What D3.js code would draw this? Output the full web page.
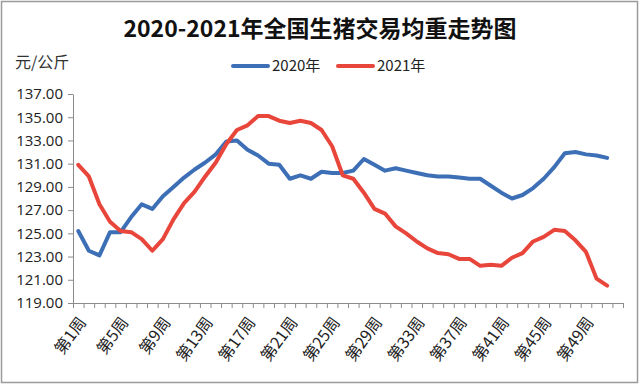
<!DOCTYPE html>
<html>
<head>
<meta charset="utf-8">
<script src="https://cdn.jsdelivr.net/npm/d3@7"></script>
<style>
  body { margin: 0; background: #fff; }
  svg { display: block; font-family: "Noto Sans CJK SC", "Noto Sans", sans-serif; }
  .axis path, .axis line { stroke: #8c8c8c; }
  .axis text { fill: #222; }
</style>
</head>
<body>
<div id="chart"></div>
<script>
// Week categories (axis has 52 slots, data runs to week 51)
const weeks = d3.range(1, 53).map(i => `第${i}周`);
const labelWeeks = d3.range(1, 53, 4).map(i => `第${i}周`);

const seriesNames = ['2020年', '2021年'];

const values2020 = [
  125.2, 123.5, 123.1, 125.1, 125.1, 126.4, 127.5, 127.1, 128.2, 129.0,
  129.8, 130.5, 131.1, 131.8, 132.9, 133.0, 132.2, 131.7, 131.0, 130.9,
  129.7, 130.0, 129.7, 130.3, 130.2, 130.2, 130.4, 131.4, 130.9, 130.4,
  130.6, 130.4, 130.2, 130.0, 129.9, 129.9, 129.8, 129.7, 129.7, 129.1,
  128.5, 128.0, 128.3, 128.9, 129.7, 130.7, 131.9, 132.0, 131.8, 131.7,
  131.5
];

const values2021 = [
  130.9, 129.9, 127.5, 126.0, 125.2, 125.1, 124.5, 123.5, 124.5, 126.2,
  127.6, 128.6, 129.9, 131.1, 132.7, 133.9, 134.3, 135.1, 135.1, 134.7,
  134.5, 134.7, 134.5, 133.9, 132.5, 130.0, 129.7, 128.5, 127.1, 126.7,
  125.6, 125.0, 124.3, 123.7, 123.3, 123.2, 122.8, 122.8, 122.2, 122.3,
  122.2, 122.9, 123.3, 124.3, 124.7, 125.3, 125.2, 124.4, 123.4, 121.1,
  120.5
];

const yTicks = d3.range(119, 138, 2);

class WeightChart {
  constructor(_config) {
    this.config = {
      parentElement: _config.parentElement,
      containerWidth: 640,
      containerHeight: 385,
      margin: { top: 94, right: 17, bottom: 82, left: 73 },
      colors: ['#3d6fb6', '#e9463b']
    };
    this.initVis();
  }

  initVis() {
    let vis = this;
    const c = vis.config;
    vis.width = c.containerWidth - c.margin.left - c.margin.right;
    vis.height = c.containerHeight - c.margin.top - c.margin.bottom;

    vis.svg = d3.select(c.parentElement).append('svg')
      .attr('width', c.containerWidth)
      .attr('height', c.containerHeight);

    // outer frame
    vis.svg.append('rect')
      .attr('x', 1.5).attr('y', 1.5)
      .attr('width', c.containerWidth - 4)
      .attr('height', c.containerHeight - 4)
      .attr('fill', 'none')
      .attr('stroke', '#9a9a9a')
      .attr('stroke-width', 1.5);

    vis.chartArea = vis.svg.append('g')
      .attr('transform', `translate(${c.margin.left},${c.margin.top})`);

    vis.xScale = d3.scaleBand().domain(weeks).range([0, vis.width]).padding(0);
    vis.xEdge = d3.scaleLinear().domain([0, weeks.length]).range([0, vis.width]);
    vis.yScale = d3.scaleLinear().domain([119, 137]).range([vis.height, 0]);

    // x axis: tick marks on category boundaries
    vis.chartArea.append('g')
      .attr('class', 'axis')
      .attr('transform', `translate(0,${vis.height})`)
      .call(d3.axisBottom(vis.xEdge).tickValues(d3.range(weeks.length + 1)).tickFormat('').tickSize(5).tickSizeOuter(0));

    // y axis
    vis.chartArea.append('g')
      .attr('class', 'axis')
      .call(d3.axisLeft(vis.yScale).tickValues(yTicks).tickFormat(d3.format('.2f')).tickSize(5).tickSizeOuter(0))
      .call(g => g.selectAll('text')
        .attr('x', -10)
        .style('font-family', '"Open Sans", "Noto Sans", sans-serif')
        .style('font-size', '15px'));

    // rotated week labels
    vis.chartArea.selectAll('.week-label')
      .data(labelWeeks)
      .join('text')
      .attr('class', 'week-label')
      .attr('transform', d => `translate(${vis.xScale(d) + vis.xScale.bandwidth() / 2 + 4},${vis.height + 16}) rotate(-54)`)
      .attr('text-anchor', 'end')
      .attr('dy', '0.35em')
      .style('font-size', '16px')
      .attr('fill', '#222')
      .text(d => d);

    // title
    vis.svg.append('text')
      .attr('x', c.containerWidth / 2)
      .attr('y', 37)
      .attr('text-anchor', 'middle')
      .style('font-size', '23px')
      .style('font-weight', 'bold')
      .attr('fill', '#111')
      .text('2020-2021年全国生猪交易均重走势图');

    // unit label
    vis.svg.append('text')
      .attr('x', 15)
      .attr('y', 68)
      .style('font-size', '16px')
      .attr('fill', '#333')
      .text('元/公斤');

    // legend
    const legendX = [233, 338];
    const legend = vis.svg.selectAll('.legend')
      .data(seriesNames)
      .join('g')
      .attr('class', 'legend')
      .attr('transform', (d, i) => `translate(${legendX[i]},66)`);
    legend.append('line')
      .attr('x1', 0).attr('x2', 35)
      .attr('stroke', (d, i) => c.colors[i])
      .attr('stroke-width', 4)
      .attr('stroke-linecap', 'round');
    legend.append('text')
      .attr('x', 39)
      .attr('dy', '0.35em')
      .style('font-size', '15px')
      .attr('fill', '#222')
      .text(d => d);

    vis.renderVis();
  }

  renderVis() {
    let vis = this;
    const line = d3.line()
      .x((d, i) => vis.xScale(weeks[i]) + vis.xScale.bandwidth() / 2)
      .y(d => vis.yScale(d));

    vis.chartArea.selectAll('.series')
      .data([values2020, values2021])
      .join('path')
      .attr('class', 'series')
      .attr('fill', 'none')
      .attr('stroke', (d, i) => vis.config.colors[i])
      .attr('stroke-width', 4)
      .attr('stroke-linejoin', 'round')
      .attr('stroke-linecap', 'round')
      .attr('d', line);
  }
}

new WeightChart({ parentElement: '#chart' });
</script>
</body>
</html>
